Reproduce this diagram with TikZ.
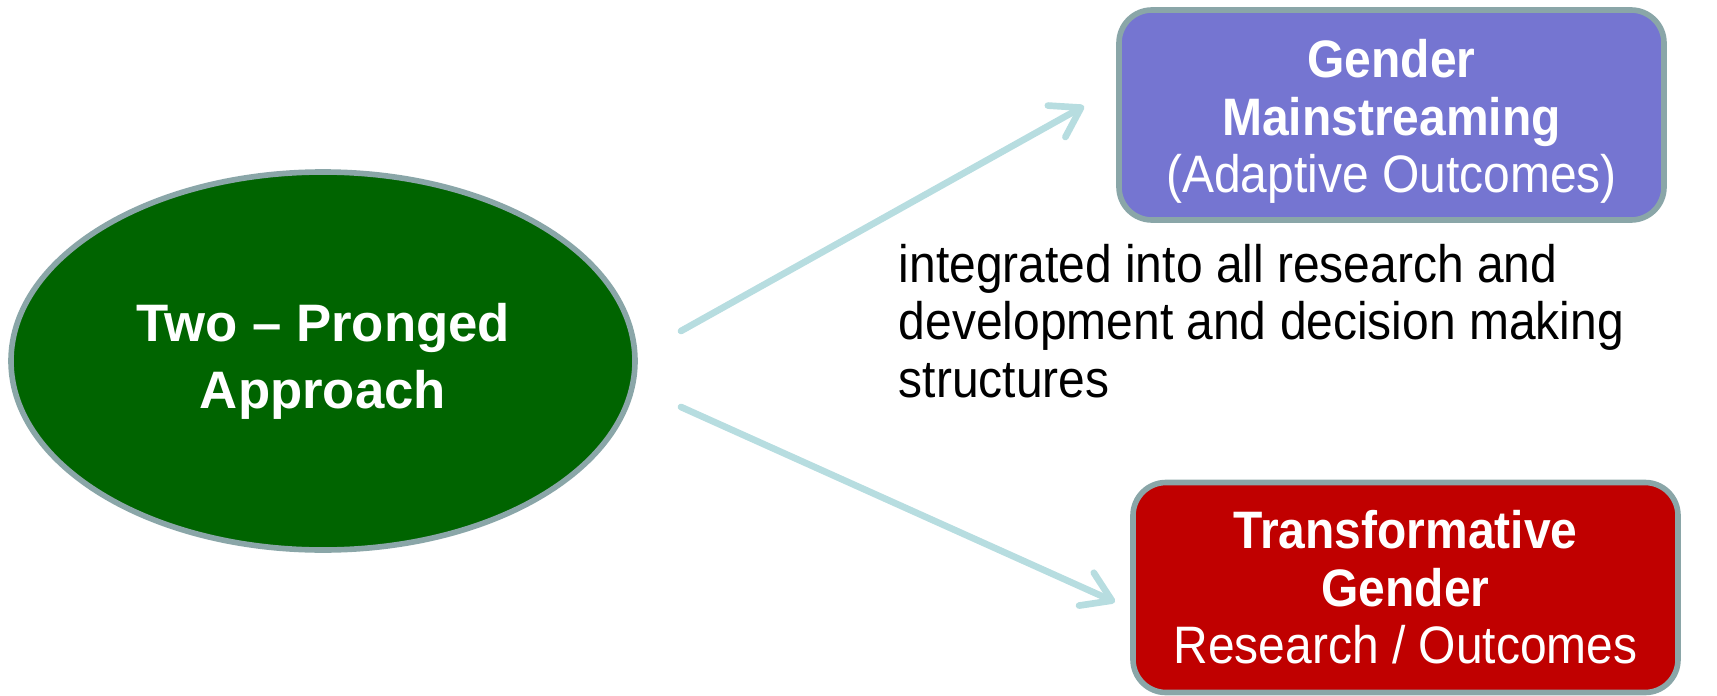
\documentclass[tikz,border=0pt]{standalone}
\usepackage{fontspec}
\setmainfont{Liberation Sans}
\newfontfamily\squeezed[FakeStretch=0.91]{Liberation Sans}
\usetikzlibrary{shapes.geometric,arrows.meta}
\definecolor{approachgreen}{RGB}{0,100,0}
\definecolor{mainpurple}{RGB}{117,117,209}
\definecolor{transred}{RGB}{192,0,0}
\definecolor{rimgrey}{RGB}{138,166,168}
\definecolor{arrowcyan}{RGB}{183,221,224}

\begin{document}
\begin{tikzpicture}
\tikzstyle{outline}=[draw=rimgrey,line width=1.6pt,text=white,align=center]
\tikzstyle{pronged}=[outline,ellipse,fill=approachgreen,minimum width=6.24cm,minimum height=3.78cm,font=\fontsize{15}{19}\selectfont]
\tikzstyle{outcome}=[outline,rectangle,rounded corners=0.33cm,minimum width=5.45cm,minimum height=2.1cm,font=\squeezed\fontsize{15}{16.4}\selectfont]
\tikzstyle{prong}=[draw=arrowcyan,line width=1.9pt,line cap=round,-{Straight Barb[round,length=0.28cm,width=0.36cm]}]
\useasboundingbox (0,0) rectangle (17.17,6.95);
\node [pronged] (approach) at (3.23,3.34) {\textbf{Two – Pronged}\\\textbf{Approach}};
\node [outcome,fill=mainpurple] (mainstream) at (13.915,5.80) {\rule{0pt}{14.5pt}\textbf{Gender}\\\textbf{Mainstreaming}\\(Adaptive Outcomes)};
\node [outcome,fill=transred] (transform) at (14.055,1.075) {\textbf{Transformative}\\\textbf{Gender}\\Research / Outcomes};
\node [anchor=west,inner sep=0pt,align=left,font=\squeezed\fontsize{15}{16.4}\selectfont] (integrated) at (8.98,3.74) {integrated into all research and\\development and decision making\\structures};
\coordinate (upstart) at (6.81,3.64);
\coordinate (upend) at (10.84,5.89);
\coordinate (downstart) at (6.81,2.88);
\coordinate (downend) at (11.15,0.93);
\draw [prong] (upstart) -- (upend);
\draw [prong] (downstart) -- (downend);
\end{tikzpicture}
\end{document}
